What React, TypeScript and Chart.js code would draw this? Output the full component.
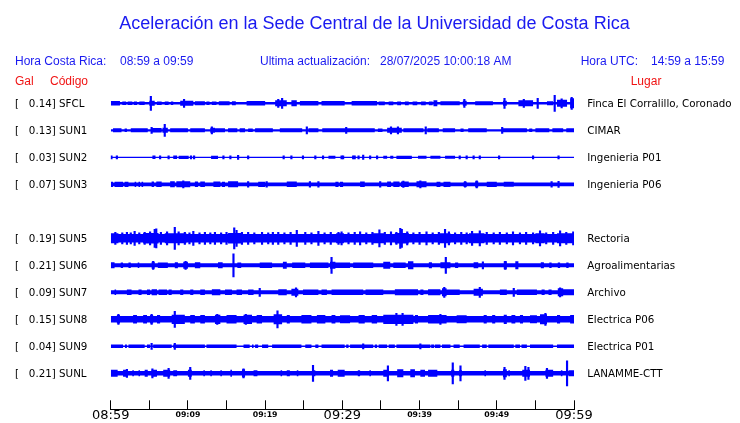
import React, { useEffect, useRef } from 'react';
import { Chart, registerables } from 'chart.js';

Chart.register(...registerables);

// ---------- text data ----------
const TITLE = 'Aceleración en la Sede Central de la Universidad de Costa Rica';
const LOCAL_LABEL = 'Hora Costa Rica:';
const LOCAL_RANGE = '08:59 a 09:59';
const UPDATE_LABEL = 'Ultima actualización:';
const UPDATE_VALUE = '28/07/2025 10:00:18 AM';
const UTC_LABEL = 'Hora UTC:';
const UTC_RANGE = '14:59 a 15:59';
const TICK_LABELS = ['08:59', '09:09', '09:19', '09:29', '09:39', '09:49', '09:59'];

// ---------- stations ----------
const CODES = ['SFCL', 'SUN1', 'SUN2', 'SUN3', 'SUN5', 'SUN6', 'SUN7', 'SUN8', 'SUN9', 'SUNL'];
const GALS = ['0.14', '0.13', '0.03', '0.07', '0.19', '0.21', '0.09', '0.15', '0.04', '0.21'];
const PLACES = [
  'Finca El Corralillo, Coronado', 'CIMAR', 'Ingenieria P01', 'Ingenieria P06',
  'Rectoria', 'Agroalimentarias', 'Archivo', 'Electrica P06', 'Electrica P01', 'LANAMME-CTT',
];
// row slot of each trace (slot 4 = SUN4, no data)
const SLOTS = [0, 1, 2, 3, 5, 6, 7, 8, 9, 10];
// quiet background half-amplitude of each trace
const CORES = [1.2, 1.1, 0.6, 1.9, 4.2, 2.0, 2.0, 3.2, 0.8, 2.3];

// bursts: [start minute, end minute, half-amplitude]
const SFCL_BURSTS = [[0.0,1.2,2.2],[1.5,2.0,1.8],[2.2,2.8,1.8],[3.0,3.4,1.8],[3.7,4.4,1.8],[5.0,5.7,2.5],[6.0,6.6,1.8],[7.0,7.5,1.8],[7.8,8.1,1.8],[9.0,10.7,2.5],[10.9,12.2,2.0],[12.4,12.8,1.8],[13.1,13.7,1.8],[14.0,15.4,2.0],[15.7,16.2,2.0],[17.6,20.0,2.2],[21.3,22.8,3.0],[23.4,24.1,3.0],[24.5,26.9,2.2],[27.3,30.3,2.2],[31.2,34.5,2.3],[34.7,35.5,1.9],[36.0,36.6,1.9],[37.1,37.6,1.9],[38.1,38.6,1.9],[39.1,39.7,1.9],[40.2,40.8,1.9],[41.2,41.7,1.9],[41.8,42.3,3.0],[42.7,45.2,2.0],[45.6,46.1,2.5],[47.2,49.5,2.0],[50.8,51.3,2.5],[52.8,54.7,3.0],[56.5,57.3,2.0],[57.8,59.1,3.5],[59.5,60,5.0]];
const SUN1_BURSTS = [[0.3,1.4,2.0],[1.8,2.1,1.8],[2.6,4.8,2.0],[5.3,6.6,2.2],[6.7,7.4,2.5],[7.7,10.0,2.0],[10.3,12.2,2.0],[12.9,13.5,2.5],[13.5,14.8,2.0],[15.2,16.4,2.0],[16.7,17.4,2.0],[17.8,18.4,1.8],[18.7,21.0,2.0],[21.9,24.8,2.0],[25.6,26.9,2.0],[27.4,29.7,2.0],[29.7,31.4,2.0],[31.4,34.2,2.0],[34.6,35.2,1.8],[35.8,37.7,2.5],[37.9,40.5,2.0],[41.0,42.5,2.0],[43.0,44.6,2.0],[45.3,45.7,1.8],[46.3,48.7,2.0],[50.8,53.9,2.0],[54.2,54.6,1.8],[55.0,56.8,2.0],[57.2,58.6,2.0],[59.0,60,2.0]];
const SUN2_BURSTS = [[5.4,5.8,1.8],[8.1,8.6,1.8],[8.8,10.1,1.6],[13.0,13.9,1.6],[28.2,29.1,1.5],[35.3,35.8,1.5],[36.2,36.6,1.5],[37.0,39.0,1.6],[39.8,40.9,1.5],[41.4,42.7,1.5],[43.3,44.6,1.5]];
const SUN3_BURSTS = [[0,0.3,2.6],[0.5,1.6,2.6],[1.8,2.3,2.6],[3.1,3.3,2.6],[3.6,3.8,2.6],[4.0,4.2,2.6],[5.3,5.6,2.8],[5.9,6.6,2.8],[7.7,8.3,3.0],[8.5,10.3,3.0],[10.9,11.3,2.8],[11.6,12.2,2.8],[13.3,14.2,2.8],[14.4,14.8,2.6],[15.2,16.5,3.0],[19.1,20.0,2.6],[22.8,24.1,2.8],[29.1,29.5,2.6],[29.7,30.1,2.6],[32.3,32.9,2.8],[35.8,36.3,2.8],[36.6,37.4,2.8],[37.6,38.6,2.8],[39.6,40.9,3.0],[42.2,42.7,2.6],[43.1,44.0,2.6],[45.7,46.1,2.6],[47.2,47.6,3.0],[48.7,50.0,2.6],[50.9,52.2,2.5]];
const SUN5_BURSTS = [[0,1.0,5.0],[4.2,6.2,5.2],[7.0,9.8,5.0],[15.2,17.0,5.2],[29.2,30.2,5.0],[33.8,35.4,5.0],[36.8,38.6,5.2],[42.6,44.0,5.0],[46.4,48.4,5.0],[55.0,56.2,5.0],[57.8,60,5.0]];
const SUN6_BURSTS = [[0,0.5,3.0],[1.3,1.6,2.7],[2.3,2.6,2.7],[3.5,3.7,2.7],[5.3,5.7,3.5],[6.1,7.4,2.7],[8.3,8.7,3.0],[9.4,10.0,3.5],[10.9,11.6,3.0],[13.9,14.5,3.0],[16.4,16.9,2.7],[19.3,20.9,2.7],[22.3,22.8,3.5],[23.5,25.2,2.7],[25.8,28.2,2.7],[28.4,29.1,3.5],[29.1,31.0,2.8],[31.4,34.0,2.7],[35.3,36.2,3.5],[36.6,38.2,2.7],[38.5,39.2,4.0],[41.2,41.6,3.0],[42.7,44.0,3.0],[44.6,45.0,2.7],[47.0,47.6,3.0],[50.9,51.3,4.0],[52.4,52.8,4.0],[55.7,56.1,3.0],[56.8,57.1,2.7],[57.9,58.2,2.7],[59.0,59.3,2.7]];
const SUN7_BURSTS = [[0.5,0.7,2.7],[2.1,2.7,2.7],[3.6,4.0,2.7],[4.7,5.1,2.7],[5.3,6.0,3.0],[6.2,7.3,2.8],[7.5,7.9,2.7],[9.0,9.4,2.7],[10.3,10.7,2.7],[11.6,12.2,2.7],[13.1,14.2,3.0],[14.8,15.7,2.7],[16.3,17.0,2.7],[17.8,18.5,2.7],[21.7,22.8,3.0],[23.4,24.3,3.5],[24.9,26.9,2.7],[27.3,28.0,2.7],[28.6,32.7,2.8],[33.0,35.3,2.7],[36.8,39.8,3.0],[40.1,40.5,2.7],[41.1,42.7,3.0],[42.9,43.5,4.0],[43.5,45.2,2.7],[47.0,48.2,3.5],[50.4,51.3,2.7],[52.6,55.2,2.7],[55.8,56.2,2.7],[56.7,57.1,2.7],[57.9,58.6,4.0],[58.6,60,3.0]];
const SUN8_BURSTS = [[0.8,1.2,4.2],[2.9,3.4,4.2],[4.2,4.7,4.2],[5.1,5.5,4.2],[6.0,6.4,4.2],[7.9,9.6,4.6],[10.3,10.9,4.2],[11.6,12.2,4.2],[13.5,14.2,4.6],[15.0,16.3,4.2],[17.2,18.3,4.6],[18.9,19.6,4.2],[21.1,22.2,5.0],[22.8,23.2,4.2],[24.7,26.0,4.2],[26.7,27.8,4.2],[28.6,29.1,4.2],[29.7,31.0,4.0],[32.1,32.9,4.2],[33.8,34.5,4.2],[35.3,39.2,4.6],[39.4,39.8,4.2],[41.1,43.5,4.2],[44.8,46.1,4.0],[48.3,48.7,4.2],[49.4,49.8,4.2],[50.9,51.3,4.6],[51.9,52.4,4.2],[53.0,53.4,4.2],[54.3,55.2,4.0],[55.6,56.5,5.0],[57.8,58.2,4.2],[59.5,60,4.2]];
const SUN9_BURSTS = [[0,1.6,1.8],[1.85,2.1,1.8],[2.3,4.4,1.8],[4.7,5.1,1.8],[5.5,7.9,1.8],[8.1,12.2,1.8],[12.4,16.3,1.8],[17.2,18.0,1.8],[18.3,18.5,1.8],[18.7,19.1,1.8],[19.6,20.4,1.8],[20.9,24.7,1.8],[25.2,26.0,1.8],[26.5,26.9,1.8],[27.3,30.3,1.8],[30.5,30.8,1.8],[31.0,34.0,1.8],[34.2,34.5,1.8],[34.7,35.8,1.8],[36.0,36.8,1.8],[37.0,41.4,1.8],[41.5,41.9,1.8],[42.0,42.7,1.8],[42.9,44.0,1.8],[44.4,45.2,1.8],[45.7,47.8,1.8],[48.1,48.7,1.8],[48.9,52.2,1.8],[52.4,53.0,1.8],[53.2,53.9,1.8],[54.3,57.3,1.8],[57.8,60,1.8]];
const SUNL_BURSTS = [[0,0.9,3.5],[1.6,2.2,3.5],[2.8,3.0,3.0],[3.6,3.8,3.0],[4.4,4.8,3.5],[5.3,6.0,3.5],[6.8,7.7,3.5],[8.1,8.6,3.0],[10.0,10.5,3.5],[12.0,12.2,3.0],[12.9,13.1,3.0],[14.2,14.4,3.0],[15.5,15.7,3.5],[17.0,17.4,4.0],[18.5,19.0,3.0],[22.0,22.2,3.0],[22.8,23.2,3.0],[24.1,24.3,3.0],[26.1,26.5,3.0],[28.4,28.8,3.5],[29.4,30.3,3.5],[32.0,32.3,3.0],[33.5,33.7,3.0],[35.3,36.0,3.5],[37.1,37.9,4.0],[38.8,39.4,4.0],[40.1,40.7,3.5],[41.1,42.3,3.5],[44.1,44.5,3.5],[45.1,45.5,3.0],[48.4,48.6,3.0],[50.8,51.3,4.0],[51.5,51.7,3.0],[53.3,54.3,3.5],[56.3,57.3,3.5],[58.3,58.5,3.0],[59.3,60,3.0]];

// spikes: [minute, half-amplitude]
const SFCL_SPIKES = [[5.2,7],[9.5,4],[21.7,4],[22.2,5],[45.8,4],[51.0,5],[53.5,4],[55.3,5],[57.5,8],[58.4,4.5],[59.7,6]];
const SUN1_SPIKES = [[5.3,3],[7.0,6],[13.1,3.5],[25.4,3.5],[30.5,3],[36.3,3.5],[37.2,3.5],[40.8,3.5],[50.7,3]];
const SUN2_SPIKES = [[0.1,1.5],[0.8,1.5],[6.4,1.5],[7.5,1.5],[10.4,1.5],[10.8,1.5],[14.6,1.5],[15.5,1.5],[16.5,2],[17.8,1.5],[22.4,1.5],[23.4,1.5],[24.9,1.5],[26.5,1.5],[27.5,1.5],[29.9,1.5],[30.1,1.5],[31.4,1.5],[31.6,1.5],[32.1,1.5],[32.7,2.2],[33.6,1.5],[34.5,1.5],[45.2,1.5],[46.1,1.5],[47.0,1.5],[47.8,1.5],[50.3,1.5],[54.7,1.5],[58.0,1.5]];
const SUN3_SPIKES = [[9.4,3.5],[17.8,2.8],[20.2,2.8],[25.8,2.8],[26.9,2.8],[34.9,2.8],[37.9,3.2],[40.1,3.5],[45.9,2.8],[47.4,3.5],[57.1,2.8],[58.0,3]];
const SUN5_SPIKES = [[0.6,6],[1.5,5.5],[2.1,6],[2.6,5.5],[3.1,7],[3.7,5.5],[4.4,6],[5.1,6.5],[5.7,9],[5.9,9.5],[6.5,6],[7.3,6.5],[8.3,11],[8.8,6.5],[9.6,6],[10.2,5.5],[10.7,7],[11.5,5.5],[12.2,6],[12.9,5.5],[13.5,6],[14.3,5.5],[15.0,6],[16.0,10.5],[16.3,8],[17.0,6],[17.8,6],[18.6,5.5],[19.6,6],[20.4,5.5],[21.0,6],[21.7,6],[22.5,5.5],[23.3,6],[24.1,8],[25.2,6],[26.0,5.5],[26.9,7],[27.7,5.5],[28.5,6],[29.5,6],[29.9,6.5],[30.8,5.5],[31.6,6],[32.3,6.5],[33.1,5.5],[33.9,6],[34.8,8.5],[35.5,6],[36.3,6.5],[37.0,6],[37.5,10],[37.7,9],[38.4,6.5],[39.2,5.5],[40.0,6],[40.9,6.5],[41.7,5.5],[42.5,6],[43.3,9],[43.8,6.5],[44.6,5.5],[45.4,6],[46.1,5.5],[46.8,7],[47.8,7.5],[48.7,6],[49.6,5.5],[50.4,6],[51.3,5.5],[52.1,6.5],[53.0,5.5],[53.8,6],[54.7,5.5],[55.6,7.5],[56.4,5.5],[57.3,6],[58.2,7.5],[59.0,6],[59.9,6.5]];
const SUN6_SPIKES = [[5.5,4],[9.7,4],[15.9,11.5],[28.6,8],[43.4,8],[48.2,3.5],[51.1,4]];
const SUN7_SPIKES = [[19.3,4],[24.0,4.5],[43.2,5],[47.8,5],[52.2,4],[58.2,4.5]];
const SUN8_SPIKES = [[1.0,5],[5.3,5],[8.3,8],[13.8,5],[17.5,5],[21.6,8.5],[37.0,6],[37.8,6],[42.7,5],[56.3,6]];
const SUN9_SPIKES = [[5.3,3],[8.3,3],[32.7,2.5],[40.1,2.5]];
const SUNL_SPIKES = [[2.1,4],[5.4,4.5],[7.5,5],[10.3,6],[17.2,4.5],[26.2,8],[35.9,7.5],[44.3,10.5],[45.3,7.5],[51.0,6],[53.7,7],[54.1,6],[56.5,5],[59.1,12.5]];

const BURSTS = [SFCL_BURSTS, SUN1_BURSTS, SUN2_BURSTS, SUN3_BURSTS, SUN5_BURSTS, SUN6_BURSTS, SUN7_BURSTS, SUN8_BURSTS, SUN9_BURSTS, SUNL_BURSTS];
const SPIKES = [SFCL_SPIKES, SUN1_SPIKES, SUN2_SPIKES, SUN3_SPIKES, SUN5_SPIKES, SUN6_SPIKES, SUN7_SPIKES, SUN8_SPIKES, SUN9_SPIKES, SUNL_SPIKES];

// ---------- style ----------
const SLOT = 27; // amplitude units between trace baselines
const DURATION = 60;
const TRACE_BLUE = '#0000ff';
const TEXT_BLUE = 'rgb(26,26,240)';
const TEXT_RED = 'rgb(240,20,20)';
const SANS = '"Liberation Sans", Arial, sans-serif';
const DEJAVU = '"DejaVu Sans", sans-serif';

function envelope(core: number, bursts: number[][]) {
  const pts: number[][] = [[0, core]];
  const sorted = [...bursts].sort((a, b) => a[0] - b[0]);
  for (const [t0, t1, a] of sorted) {
    pts.push([t0, a]);
    pts.push([t1, core]);
  }
  pts.push([DURATION, core]);
  return pts;
}

function buildDatasets() {
  const lines: any[] = [];
  const bars: any[] = [];
  CODES.forEach((_, i) => {
    const base = SLOTS[i] * SLOT;
    const env = envelope(CORES[i], BURSTS[i]);
    const idx = lines.length;
    lines.push({
      type: 'line',
      data: env.map(([t, a]) => ({ x: t, y: base - a })),
      stepped: true, borderWidth: 0, pointRadius: 0, fill: false,
      borderColor: TRACE_BLUE, backgroundColor: TRACE_BLUE,
    });
    lines.push({
      type: 'line',
      data: env.map(([t, a]) => ({ x: t, y: base + a })),
      stepped: true, borderWidth: 0, pointRadius: 0, fill: idx,
      borderColor: TRACE_BLUE, backgroundColor: TRACE_BLUE,
    });
    bars.push({
      type: 'bar',
      data: SPIKES[i].map(([t, a]) => ({ x: t, y: [base - a, base + a] })),
      backgroundColor: TRACE_BLUE, borderWidth: 0, barThickness: 1.5, grouped: false,
    });
  });
  return [...lines, ...bars];
}

const textPlugin = {
  id: 'seismoTexts',
  afterDraw(chart: any) {
    const ctx = chart.ctx as CanvasRenderingContext2D;
    const ys = chart.scales.y;
    const xs = chart.scales.x;
    const area = chart.chartArea;
    ctx.save();
    // time axis base line
    ctx.fillStyle = '#000';
    const x0 = Math.round(xs.getPixelForValue(0));
    const x1 = Math.round(xs.getPixelForValue(DURATION)) + 1;
    ctx.fillRect(x0, Math.round(area.bottom), x1 - x0, 1);

    ctx.textBaseline = 'alphabetic';
    // title
    ctx.fillStyle = TEXT_BLUE;
    ctx.font = `18px ${SANS}`;
    ctx.textAlign = 'center';
    ctx.fillText(TITLE, 374.5, 29.3);
    // header row
    ctx.textAlign = 'left';
    ctx.font = `12px ${SANS}`;
    ctx.fillText(LOCAL_LABEL, 15, 64.5);
    ctx.fillText(LOCAL_RANGE, 120, 64.5);
    ctx.fillText(UPDATE_LABEL, 260, 64.5);
    ctx.fillText(UPDATE_VALUE, 380, 64.5);
    ctx.fillText(UTC_LABEL, 580.7, 64.5);
    ctx.fillText(UTC_RANGE, 651, 64.5);
    ctx.fillStyle = TEXT_RED;
    ctx.fillText('Gal', 15, 84.5);
    ctx.fillText('Código', 50, 84.5);
    ctx.fillText('Lugar', 630.7, 84.5);
    // station labels
    ctx.fillStyle = '#000';
    ctx.font = `10.3px ${DEJAVU}`;
    CODES.forEach((code, i) => {
      const y = ys.getPixelForValue(SLOTS[i] * SLOT) + 4;
      ctx.fillText(`[   ${GALS[i]}] ${code}`, 15, y);
      ctx.fillText(PLACES[i], area.right + 13.3, y);
    });
    ctx.restore();
  },
};

export default function App() {
  const ref = useRef<HTMLCanvasElement | null>(null);
  useEffect(() => {
    document.body.style.margin = '0';
    const canvas = ref.current;
    if (!canvas) return;
    const chart = new Chart(canvas, {
      type: 'bar',
      data: { datasets: buildDatasets() as any },
      options: {
        responsive: false,
        animation: false,
        devicePixelRatio: 1,
        events: [],
        layout: { padding: { left: 110.7, right: 166, top: 76.3, bottom: 0 } },
        plugins: {
          legend: { display: false },
          tooltip: { enabled: false },
          title: { display: false },
        },
        scales: {
          x: {
            type: 'linear',
            min: 0,
            max: DURATION,
            offset: false,
            position: 'bottom',
            grid: {
              display: true, drawOnChartArea: false, drawTicks: true,
              tickLength: -9, color: '#000', lineWidth: 1, offset: false,
            },
            border: { display: true, color: '#000', width: 1 },
            ticks: {
              stepSize: 5,
              autoSkip: false,
              maxRotation: 0,
              padding: 9,
              color: '#000',
              callback: (v: any) => (Number(v) % 10 === 0 ? TICK_LABELS[Number(v) / 10] : ''),
              font: (c: any) =>
                c.tick && c.tick.value % 30 === 0
                  ? { family: DEJAVU, size: 13, lineHeight: '13.6px' }
                  : { family: DEJAVU, size: 7.8, weight: 'bold', lineHeight: '12px' },
            },
            afterFit: (s: any) => { s.height = 13.7; },
          } as any,
          y: { type: 'linear', min: -SLOT, max: SLOT * 11.333, reverse: true, display: false },
        },
      },
      plugins: [textPlugin],
    });
    return () => chart.destroy();
  }, []);
  return (
    <div style={{ width: 740, height: 423, position: 'relative', background: '#fff' }}>
      <canvas ref={ref} width={740} height={423} style={{ display: 'block' }} />
    </div>
  );
}
